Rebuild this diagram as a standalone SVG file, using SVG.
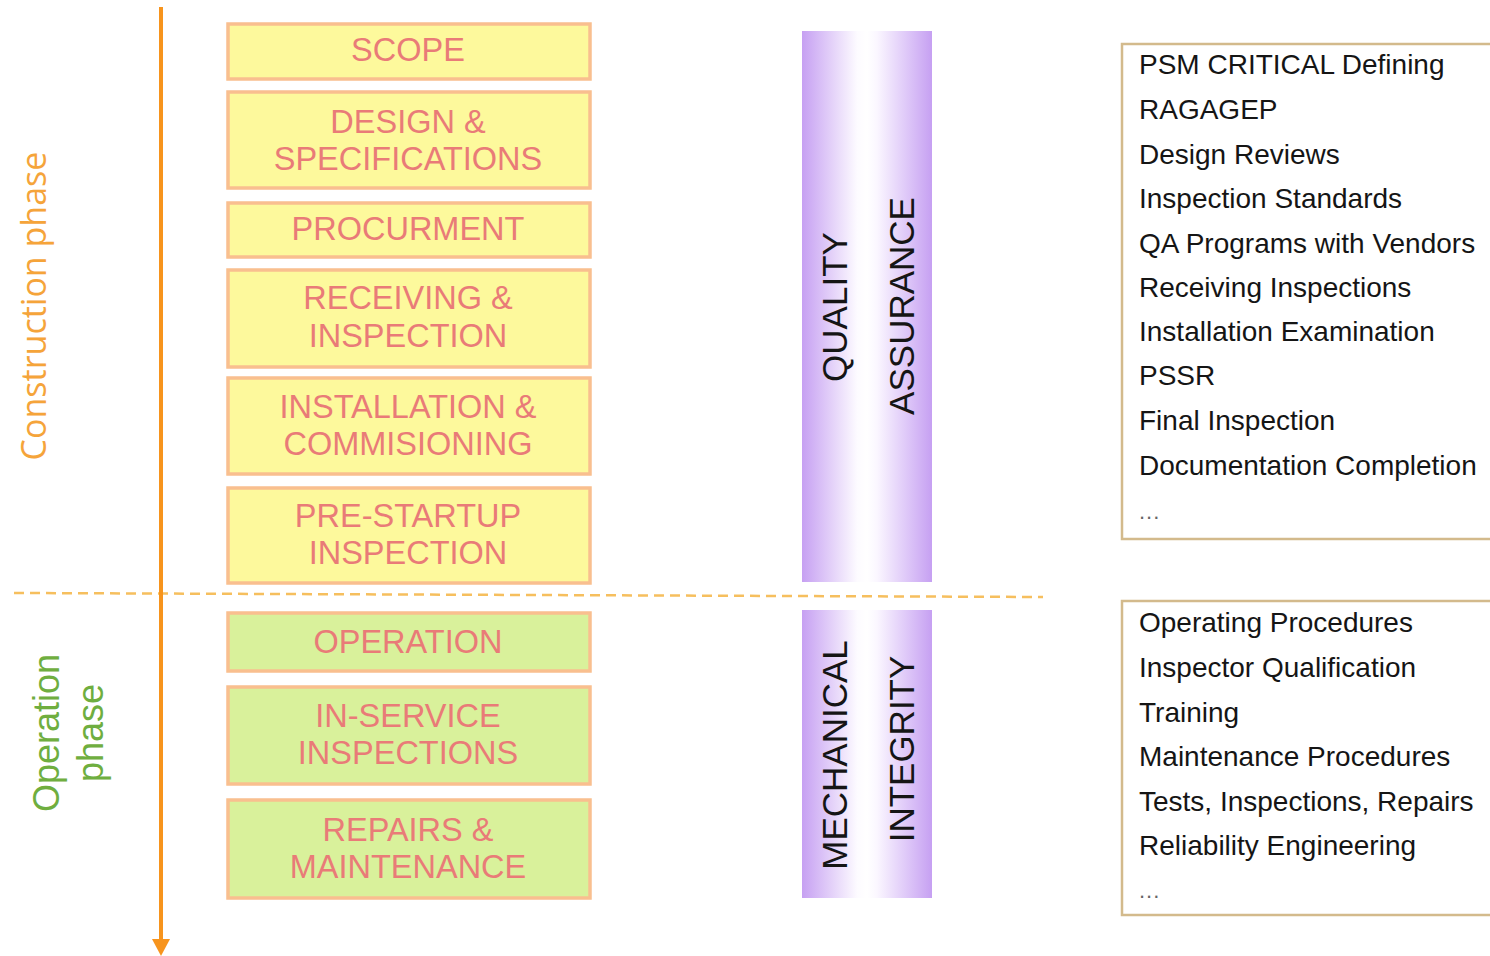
<svg xmlns="http://www.w3.org/2000/svg" width="1490" height="956" viewBox="0 0 1490 956">
<style>
.box{stroke:#f9bf8f;stroke-width:3.5}
.y{fill:#fdf99c}
.g{fill:#d9f19b}
.bt{font-family:"Liberation Sans",Arial,sans-serif;font-size:32.5px;fill:#e97b78;text-anchor:middle}
.vt{font-family:"Liberation Sans",Arial,sans-serif;font-size:35px;fill:#151515;text-anchor:middle}
.lt{font-family:"Liberation Sans",Arial,sans-serif;font-size:28px;fill:#151515}
.dots{font-family:"Liberation Sans",Arial,sans-serif;font-size:22px;fill:#666;letter-spacing:1px}
.list{fill:#fff;stroke:#d3ba8c;stroke-width:2.5}
</style>
<defs>
<linearGradient id="pl" x1="0" y1="0" x2="1" y2="0">
<stop offset="0" stop-color="#c6a0f2"/>
<stop offset="0.85" stop-color="#fdfbff"/>
<stop offset="1" stop-color="#ffffff"/>
</linearGradient>
<linearGradient id="pr" x1="0" y1="0" x2="1" y2="0">
<stop offset="0" stop-color="#ffffff"/>
<stop offset="0.15" stop-color="#fbf7ff"/>
<stop offset="1" stop-color="#c6a0f2"/>
</linearGradient>
</defs>
<rect width="1490" height="956" fill="#ffffff"/>

<g id="connectors">
<line x1="14" y1="593" x2="1043" y2="597" stroke="#f6bf5e" stroke-width="2.5" stroke-dasharray="10,6"/>
<path d="M161,7 L161,940" stroke="#f7941d" stroke-width="4" fill="none"/>
<path d="M152,939 L170,939 L161,956 Z" fill="#f7941d"/>
</g>

<g id="phase-labels">
<text transform="translate(46,306) rotate(-90)" font-family="'Open Sans','Noto Sans',sans-serif" font-size="34" fill="#f5a43a" text-anchor="middle">Construction phase</text>
<text transform="translate(59,733) rotate(-90)" font-family="'Liberation Sans',Arial,sans-serif" font-size="36" fill="#6fae3f" text-anchor="middle">Operation</text>
<text transform="translate(103,733) rotate(-90)" font-family="'Liberation Sans',Arial,sans-serif" font-size="36" fill="#6fae3f" text-anchor="middle">phase</text>
</g>

<g id="scope"><rect class="box y" x="228" y="24" width="362" height="55"/><text class="bt" x="408" y="61">SCOPE</text></g>
<g id="design"><rect class="box y" x="228" y="92" width="362" height="96"/><text class="bt" x="408" y="133">DESIGN &amp;</text><text class="bt" x="408" y="170">SPECIFICATIONS</text></g>
<g id="procurment"><rect class="box y" x="228" y="203" width="362" height="54"/><text class="bt" x="408" y="240">PROCURMENT</text></g>
<g id="receiving"><rect class="box y" x="228" y="270" width="362" height="97"/><text class="bt" x="408" y="309">RECEIVING &amp;</text><text class="bt" x="408" y="347">INSPECTION</text></g>
<g id="installation"><rect class="box y" x="228" y="378" width="362" height="96"/><text class="bt" x="408" y="418">INSTALLATION &amp;</text><text class="bt" x="408" y="455">COMMISIONING</text></g>
<g id="prestartup"><rect class="box y" x="228" y="488" width="362" height="95"/><text class="bt" x="408" y="527">PRE-STARTUP</text><text class="bt" x="408" y="564">INSPECTION</text></g>
<g id="operation"><rect class="box g" x="228" y="613" width="362" height="58"/><text class="bt" x="408" y="653">OPERATION</text></g>
<g id="inservice"><rect class="box g" x="228" y="687" width="362" height="97"/><text class="bt" x="408" y="727">IN-SERVICE</text><text class="bt" x="408" y="764">INSPECTIONS</text></g>
<g id="repairs"><rect class="box g" x="228" y="800" width="362" height="98"/><text class="bt" x="408" y="841">REPAIRS &amp;</text><text class="bt" x="408" y="878">MAINTENANCE</text></g>

<g id="quality-assurance">
<rect x="802" y="31" width="65" height="551" fill="url(#pl)"/>
<rect x="867" y="31" width="65" height="551" fill="url(#pr)"/>
<text class="vt" transform="translate(847,307) rotate(-90)">QUALITY</text>
<text class="vt" transform="translate(914,306) rotate(-90)">ASSURANCE</text>
</g>

<g id="mechanical-integrity">
<rect x="802" y="610" width="65" height="288" fill="url(#pl)"/>
<rect x="867" y="610" width="65" height="288" fill="url(#pr)"/>
<text class="vt" transform="translate(847,755) rotate(-90)">MECHANICAL</text>
<text class="vt" transform="translate(914,749) rotate(-90)">INTEGRITY</text>
</g>

<g id="qa-list">
<rect class="list" x="1122" y="44" width="380" height="495"/>
<text class="lt" x="1139" y="74">PSM CRITICAL Defining</text>
<text class="lt" x="1139" y="119">RAGAGEP</text>
<text class="lt" x="1139" y="164">Design Reviews</text>
<text class="lt" x="1139" y="208">Inspection Standards</text>
<text class="lt" x="1139" y="253">QA Programs with Vendors</text>
<text class="lt" x="1139" y="297">Receiving Inspections</text>
<text class="lt" x="1139" y="341">Installation Examination</text>
<text class="lt" x="1139" y="385">PSSR</text>
<text class="lt" x="1139" y="430">Final Inspection</text>
<text class="lt" x="1139" y="475">Documentation Completion</text>
<text class="dots" x="1139" y="519">...</text>
</g>

<g id="mi-list">
<rect class="list" x="1122" y="601" width="380" height="314"/>
<text class="lt" x="1139" y="632">Operating Procedures</text>
<text class="lt" x="1139" y="677">Inspector Qualification</text>
<text class="lt" x="1139" y="722">Training</text>
<text class="lt" x="1139" y="766">Maintenance Procedures</text>
<text class="lt" x="1139" y="811">Tests, Inspections, Repairs</text>
<text class="lt" x="1139" y="855">Reliability Engineering</text>
<text class="dots" x="1139" y="898">...</text>
</g>
</svg>
